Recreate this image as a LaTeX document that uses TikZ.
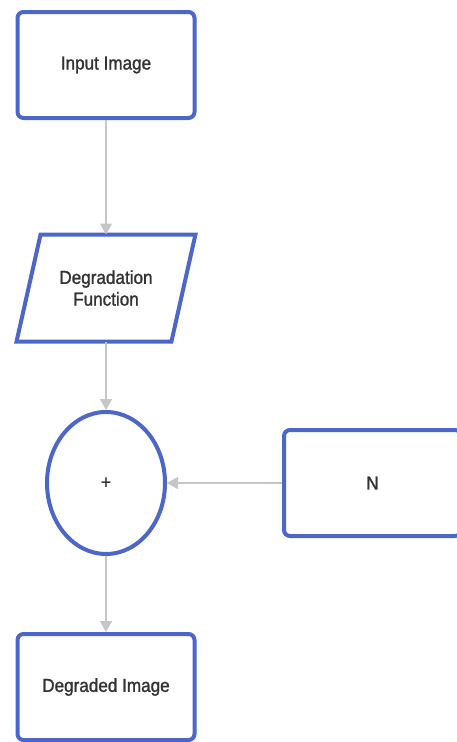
\documentclass[tikz,border=0pt]{standalone}
\usepackage{fontspec}
\setmainfont{Liberation Sans}[FakeStretch=0.91,FakeBold=1.3]
\usetikzlibrary{arrows.meta,shapes.geometric}
\definecolor{fcblue}{HTML}{4C66C9}
\definecolor{fcgray}{HTML}{C6C6C6}
\definecolor{fctext}{HTML}{333333}
\begin{document}
\begin{tikzpicture}[x=1pt,y=-1pt,
  lbl/.style={text=fctext,font=\fontsize{18.8}{21.7}\selectfont,align=center,inner sep=0pt},
  box/.style={lbl,draw=fcblue,line width=4pt,rounded corners=6pt,minimum width=177pt,minimum height=106pt,fill=white},
  conn/.style={draw=fcgray,line width=1.5pt,-{Triangle[length=11pt,width=12pt]}}]
\useasboundingbox (0,0) rectangle (457,742);
\node[box] (in) at (106,65) {Input Image};
\node[lbl,minimum width=154.5pt,minimum height=106.6pt] (df) at (106,288) {Degradation\\Function};
\draw[fcblue,line width=4pt,line join=miter]
  ([xshift=12pt]df.north west) -- ([xshift=12pt]df.north east)
  -- ([xshift=-12pt]df.south east) -- ([xshift=-12pt]df.south west) -- cycle;
\node[lbl,ellipse,draw=fcblue,line width=4pt,minimum width=118pt,minimum height=142pt,fill=white] (sum) at (106,483) {+};
\node[box] (n) at (372.5,483) {N};
\node[box] (out) at (106,687) {Degraded Image};
\draw[conn] (in) -- (df);
\draw[conn] (df) -- (sum);
\draw[conn] (n) -- (sum);
\draw[conn] (sum) -- (out);
\end{tikzpicture}
\end{document}
